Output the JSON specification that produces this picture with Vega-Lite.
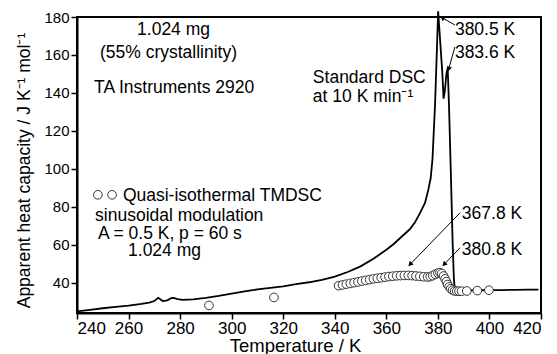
{
  "$schema": "https://vega.github.io/schema/vega-lite/v6.json",
  "width": 464,
  "height": 296,
  "autosize": "none",
  "padding": {"left": 77, "top": 17, "right": 16, "bottom": 41},
  "background": "white",
  "config": {
    "font": "Liberation Sans",
    "view": {"stroke": "black", "strokeWidth": 2},
    "axis": {"grid": false, "domainColor": "black", "domainWidth": 2, "tickColor": "black", "tickWidth": 1.5, "tickSize": 6, "labelColor": "black", "titleColor": "black", "titleFontWeight": "normal", "labelFont": "Liberation Sans", "titleFont": "Liberation Sans"}
  },
  "datasets": {
    "dsc": [
      {"T": 240, "Cp": 24.8}, {"T": 245, "Cp": 25.7}, {"T": 250, "Cp": 26.5}, {"T": 255, "Cp": 27.2},
      {"T": 260, "Cp": 27.9}, {"T": 265, "Cp": 28.8}, {"T": 268, "Cp": 29.5}, {"T": 270, "Cp": 30.3},
      {"T": 271.5, "Cp": 32.0}, {"T": 272.3, "Cp": 31.2}, {"T": 273.3, "Cp": 30.3}, {"T": 275, "Cp": 30.6},
      {"T": 276.5, "Cp": 31.8}, {"T": 277.5, "Cp": 32.0}, {"T": 279, "Cp": 31.3}, {"T": 281, "Cp": 30.9},
      {"T": 285, "Cp": 31.2}, {"T": 290, "Cp": 32.0}, {"T": 295, "Cp": 33.0}, {"T": 300, "Cp": 34.2},
      {"T": 305, "Cp": 35.4}, {"T": 310, "Cp": 36.4}, {"T": 315, "Cp": 37.2}, {"T": 320, "Cp": 38.0},
      {"T": 325, "Cp": 39.2}, {"T": 330, "Cp": 40.2}, {"T": 335, "Cp": 41.5}, {"T": 340, "Cp": 43.2},
      {"T": 345, "Cp": 45.6}, {"T": 350, "Cp": 48.6}, {"T": 355, "Cp": 52.6}, {"T": 360, "Cp": 57.3},
      {"T": 363, "Cp": 60.5}, {"T": 366, "Cp": 64.3}, {"T": 369, "Cp": 68.0}, {"T": 371, "Cp": 71.5},
      {"T": 373, "Cp": 76.5}, {"T": 375, "Cp": 82}, {"T": 376.3, "Cp": 89}, {"T": 377.2, "Cp": 95},
      {"T": 377.9, "Cp": 105}, {"T": 378.9, "Cp": 134}, {"T": 379.6, "Cp": 162}, {"T": 380.1, "Cp": 183},
      {"T": 380.8, "Cp": 169}, {"T": 381.7, "Cp": 151}, {"T": 382.2, "Cp": 137}, {"T": 382.7, "Cp": 141},
      {"T": 383.3, "Cp": 150}, {"T": 383.8, "Cp": 153}, {"T": 384.3, "Cp": 134}, {"T": 385.1, "Cp": 94},
      {"T": 385.7, "Cp": 62}, {"T": 386.2, "Cp": 42}, {"T": 386.6, "Cp": 36.5}, {"T": 388, "Cp": 36.0},
      {"T": 392, "Cp": 35.9}, {"T": 396, "Cp": 36.0}, {"T": 400, "Cp": 36.1}, {"T": 405, "Cp": 36.1},
      {"T": 410, "Cp": 36.2}, {"T": 415, "Cp": 36.3}, {"T": 419, "Cp": 36.3}
    ],
    "tmdsc": [
      {"T": 291.2, "Cp": 28.0}, {"T": 316.4, "Cp": 32.2},
      {"T": 341.5, "Cp": 38.4}, {"T": 343, "Cp": 38.8}, {"T": 344.5, "Cp": 39.2}, {"T": 346, "Cp": 39.6},
      {"T": 347.5, "Cp": 40.0}, {"T": 349, "Cp": 40.4}, {"T": 350.5, "Cp": 40.8}, {"T": 352, "Cp": 41.2},
      {"T": 353.5, "Cp": 41.6}, {"T": 355, "Cp": 42.0}, {"T": 356.5, "Cp": 42.3}, {"T": 358, "Cp": 42.6},
      {"T": 359.5, "Cp": 42.9}, {"T": 361, "Cp": 43.2}, {"T": 362.5, "Cp": 43.4}, {"T": 364, "Cp": 43.6},
      {"T": 365.5, "Cp": 43.7}, {"T": 367, "Cp": 43.8}, {"T": 368.5, "Cp": 43.8}, {"T": 370, "Cp": 43.7},
      {"T": 371.5, "Cp": 43.5}, {"T": 373, "Cp": 43.3}, {"T": 374.5, "Cp": 43.1}, {"T": 376, "Cp": 43.0},
      {"T": 377, "Cp": 43.2}, {"T": 378, "Cp": 43.7}, {"T": 379, "Cp": 44.4}, {"T": 380, "Cp": 45.0},
      {"T": 380.8, "Cp": 45.3}, {"T": 381.5, "Cp": 44.8}, {"T": 382.2, "Cp": 43.5}, {"T": 382.8, "Cp": 42.0},
      {"T": 383.3, "Cp": 40.5}, {"T": 383.8, "Cp": 39.0}, {"T": 384.4, "Cp": 37.8}, {"T": 385, "Cp": 36.8},
      {"T": 385.7, "Cp": 36.1}, {"T": 386.5, "Cp": 35.6}, {"T": 387.3, "Cp": 35.5}, {"T": 388.2, "Cp": 35.5},
      {"T": 389.2, "Cp": 35.5}, {"T": 391.2, "Cp": 35.6}, {"T": 395.3, "Cp": 35.8}, {"T": 399.8, "Cp": 36.0}
    ],
    "legend": [
      {"T": 248.1, "Cp": 86.3}, {"T": 253.6, "Cp": 86.3}
    ],
    "notes": [
      {"T": 263.3, "Cp": 170.5, "label": "1.024 mg"},
      {"T": 248.9, "Cp": 158.4, "label": "(55% crystallinity)"},
      {"T": 246.6, "Cp": 140.0, "label": "TA Instruments 2920"},
      {"T": 331.5, "Cp": 145.3, "label": "Standard DSC"},
      {"T": 331.5, "Cp": 135.4, "label": "at 10 K min⁻¹"},
      {"T": 386.6, "Cp": 170.5, "label": "380.5 K"},
      {"T": 386.6, "Cp": 158.4, "label": "383.6 K"},
      {"T": 257.8, "Cp": 83.2, "label": "Quasi-isothermal TMDSC"},
      {"T": 247.0, "Cp": 72.6, "label": "sinusoidal  modulation"},
      {"T": 248.1, "Cp": 63.2, "label": "A = 0.5 K,  p = 60 s"},
      {"T": 259.8, "Cp": 54.0, "label": "1.024 mg"},
      {"T": 389.3, "Cp": 73.5, "label": "367.8 K"},
      {"T": 389.3, "Cp": 54.7, "label": "380.8 K"}
    ],
    "arrows": [
      {"id": "a1", "T": 386.6, "Cp": 175.8, "T2": 381.7, "Cp2": 179.6},
      {"id": "a2", "T": 386.6, "Cp": 164.2, "T2": 384.2, "Cp2": 152.6},
      {"id": "a3", "T": 388.6, "Cp": 76.8, "T2": 369.2, "Cp2": 49.6},
      {"id": "a4", "T": 388.6, "Cp": 58.4, "T2": 382.4, "Cp2": 49.6}
    ]
  },
  "layer": [
    {
      "data": {"name": "dsc"},
      "mark": {"type": "line", "color": "black", "strokeWidth": 1.8},
      "encoding": {
        "x": {"field": "T", "type": "quantitative", "scale": {"domain": [240, 420], "nice": false, "zero": false},
              "axis": {"values": [240, 260, 280, 300, 320, 340, 360, 380, 400, 420], "labelFontSize": 17, "labelPadding": 1, "title": "Temperature / K", "titleFontSize": 18.5, "titleX": 218, "titleY": 38, "titleBaseline": "alphabetic", "titleAlign": "center"}},
        "y": {"field": "Cp", "type": "quantitative", "scale": {"domain": [24, 180], "nice": false, "zero": false},
              "axis": {"values": [40, 60, 80, 100, 120, 140, 160, 180], "labelFontSize": 15, "labelPadding": 2, "title": "Apparent heat  capacity / J K⁻¹ mol⁻¹", "titleFontSize": 17.5, "titleX": -48, "titleY": 153, "titleBaseline": "alphabetic", "titleAlign": "center", "titleAngle": -90}},
        "order": {"field": "T", "type": "quantitative"}
      }
    },
    {
      "data": {"name": "tmdsc"},
      "mark": {"type": "point", "shape": "circle", "filled": true, "fill": "white", "stroke": "#333333", "strokeWidth": 1, "size": 75, "opacity": 1},
      "encoding": {
        "x": {"field": "T", "type": "quantitative"},
        "y": {"field": "Cp", "type": "quantitative"}
      }
    },
    {
      "data": {"name": "legend"},
      "mark": {"type": "point", "shape": "circle", "filled": true, "fill": "white", "stroke": "#333333", "strokeWidth": 1, "size": 75, "opacity": 1},
      "encoding": {
        "x": {"field": "T", "type": "quantitative"},
        "y": {"field": "Cp", "type": "quantitative"}
      }
    },
    {
      "data": {"name": "arrows"},
      "mark": {"type": "rule", "color": "black", "strokeWidth": 1},
      "encoding": {
        "x": {"field": "T", "type": "quantitative"},
        "y": {"field": "Cp", "type": "quantitative"},
        "x2": {"field": "T2"},
        "y2": {"field": "Cp2"}
      }
    },
    {
      "data": {"name": "arrows"},
      "transform": [{"filter": "datum.id == 'a1'"}],
      "mark": {"type": "point", "shape": "triangle-up", "filled": true, "color": "black", "size": 30, "angle": 304, "opacity": 1},
      "encoding": {"x": {"field": "T2", "type": "quantitative"}, "y": {"field": "Cp2", "type": "quantitative"}}
    },
    {
      "data": {"name": "arrows"},
      "transform": [{"filter": "datum.id == 'a2'"}],
      "mark": {"type": "point", "shape": "triangle-up", "filled": true, "color": "black", "size": 30, "angle": 196, "opacity": 1},
      "encoding": {"x": {"field": "T2", "type": "quantitative"}, "y": {"field": "Cp2", "type": "quantitative"}}
    },
    {
      "data": {"name": "arrows"},
      "transform": [{"filter": "datum.id == 'a3' || datum.id == 'a4'"}],
      "mark": {"type": "point", "shape": "triangle-up", "filled": true, "color": "black", "size": 30, "angle": 224, "opacity": 1},
      "encoding": {"x": {"field": "T2", "type": "quantitative"}, "y": {"field": "Cp2", "type": "quantitative"}}
    },
    {
      "data": {"name": "notes"},
      "mark": {"type": "text", "align": "left", "baseline": "alphabetic", "fontSize": 17.5, "color": "black", "font": "Liberation Sans"},
      "encoding": {
        "x": {"field": "T", "type": "quantitative"},
        "y": {"field": "Cp", "type": "quantitative"},
        "text": {"field": "label"}
      }
    }
  ]
}
